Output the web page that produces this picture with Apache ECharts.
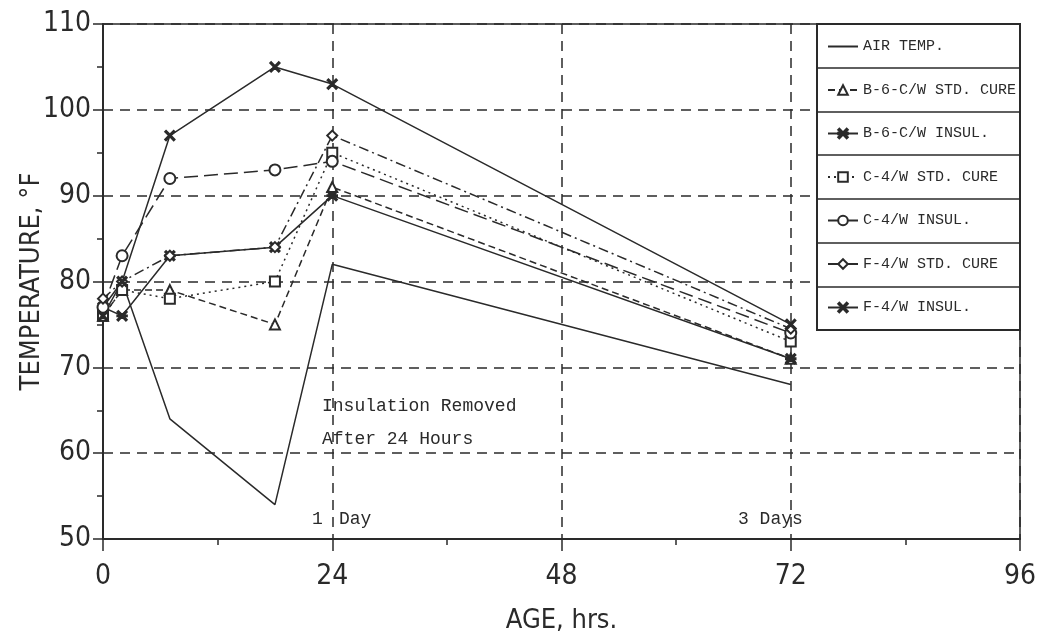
<!DOCTYPE html>
<html>
<head>
<meta charset="utf-8">
<script src="https://cdn.jsdelivr.net/npm/echarts@6/dist/echarts.min.js"></script>
<style>
html,body{margin:0;padding:0;background:#fff;}
#c{width:1038px;height:641px;}
</style>
</head>
<body>
<div id="c"></div>
<script>
// ---- data ----
const hours = [0, 2, 7, 18, 24, 72];
const airTemp = [77, 80, 64, 54, 82, 68];
const b6Std = [76, 79, 79, 75, 91, 71];
const b6Ins = [77, 76, 83, 84, 90, 71];
const c4Std = [76, 79, 78, 80, 95, 73];
const c4Ins = [77, 83, 92, 93, 94, 74];
const f4Std = [78, 80, 83, 84, 97, 74.5];
const f4Ins = [76, 80, 97, 105, 103, 75];
const seriesNames = ['AIR TEMP.', 'B-6-C/W STD. CURE', 'B-6-C/W INSUL.', 'C-4/W STD. CURE', 'C-4/W INSUL.', 'F-4/W STD. CURE', 'F-4/W INSUL.'];
const xTicks = [0, 24, 48, 72, 96];
const yTicks = [50, 60, 70, 80, 90, 100, 110];

const INK = '#2a2a2a';
const xMark = 'path://M0,1.2 L1.2,0 L5,3.8 L8.8,0 L10,1.2 L6.2,5 L10,8.8 L8.8,10 L5,6.2 L1.2,10 L0,8.8 L3.8,5 Z';
const asterisk = 'path://M0,1.2 L1.2,0 L5,3.8 L8.8,0 L10,1.2 L6.2,5 L10,8.8 L8.8,10 L5,6.2 L1.2,10 L0,8.8 L3.8,5 Z M0,4.3 L10,4.3 L10,5.7 L0,5.7 Z';

function pairs(vals){ return hours.map((h,i)=>[h, vals[i]]); }

const styles = [
  {data: airTemp, symbol: 'none', type: 'solid'},
  {data: b6Std, symbol: 'emptyTriangle', type: [7,4]},
  {data: b6Ins, symbol: asterisk, type: 'solid'},
  {data: c4Std, symbol: 'emptyRect', type: [2,4]},
  {data: c4Ins, symbol: 'emptyCircle', type: [14,6]},
  {data: f4Std, symbol: 'emptyDiamond', type: [10,4,2,4]},
  {data: f4Ins, symbol: xMark, type: 'solid'}
];

const series = styles.map((s,i)=>({
  name: seriesNames[i],
  type: 'line',
  data: pairs(s.data),
  symbol: s.symbol,
  symbolSize: s.symbol === 'emptyCircle' ? 11 : 10,
  showSymbol: s.symbol !== 'none',
  lineStyle: {color: INK, width: 1.5, type: s.type},
  itemStyle: {color: INK, borderColor: INK, borderWidth: 1.5},
  emphasis: {disabled: true},
  animation: false,
  z: 3
}));

const chart = echarts.init(document.getElementById('c'), null, {renderer: 'canvas'});
const axisFont = "'DejaVu Sans Condensed','Liberation Sans Narrow','Roboto Condensed',sans-serif";
const monoFont = "'Liberation Mono','DejaVu Sans Mono',monospace";

const legendRows = [68, 112, 155, 199, 243, 287];
const graphic = [
  {type:'rect', shape:{x:817, y:24, width:203, height:306}, style:{fill:'#fff', stroke:INK, lineWidth:2}, z:10},
  ...legendRows.map(y=>({type:'line', shape:{x1:817, y1:y, x2:1020, y2:y}, style:{stroke:INK, lineWidth:1.5}, z:11})),
  {type:'text', left:322, top:397, style:{text:'Insulation Removed', font:"18px " + monoFont, fill:INK}, z:5},
  {type:'text', left:322, top:430, style:{text:'After 24 Hours', font:"18px " + monoFont, fill:INK}, z:5},
  {type:'text', left:312, top:510, style:{text:'1', font:"18px " + monoFont, fill:INK}, z:5},
  {type:'text', left:339, top:510, style:{text:'Day', font:"18px " + monoFont, fill:INK}, z:5},
  {type:'text', left:738, top:510, style:{text:'3 Days', font:"18px " + monoFont, fill:INK}, z:5}
];

const legendData = seriesNames.map((n,i)=> i===0
  ? {name:n, itemStyle:{opacity:0}}
  : {name:n});

chart.setOption({
  backgroundColor: '#fff',
  animation: false,
  grid: {left:103, right:18, top:24, bottom:102, show:true, borderColor:INK, borderWidth:1.5, backgroundColor:'transparent', containLabel:false, outerBoundsMode:'none'},
  xAxis: {
    type:'value', min:xTicks[0], max:xTicks[xTicks.length-1], interval:24,
    name:'AGE, hrs.', nameLocation:'middle', nameGap:68,
    nameTextStyle:{fontFamily:axisFont, fontSize:27, color:INK},
    axisLine:{show:true, onZero:false, lineStyle:{color:INK, width:2}},
    axisTick:{show:true, length:12, inside:false, lineStyle:{color:INK, width:1.5}},
    minorTick:{show:true, splitNumber:2, length:6, lineStyle:{color:INK, width:1.5}},
    axisLabel:{fontFamily:axisFont, fontSize:28, color:INK, margin:24},
    splitLine:{show:true, lineStyle:{color:INK, width:1.5, type:[10,7]}}
  },
  yAxis: {
    type:'value', min:yTicks[0], max:yTicks[yTicks.length-1], interval:10,
    name:'TEMPERATURE, °F', nameLocation:'middle', nameGap:58, nameMoveOverlap:false,
    nameTextStyle:{fontFamily:axisFont, fontSize:27, color:INK},
    axisLine:{show:true, onZero:false, lineStyle:{color:INK, width:2}},
    axisTick:{show:true, length:10, lineStyle:{color:INK, width:1.5}},
    minorTick:{show:true, splitNumber:2, length:6, lineStyle:{color:INK, width:1.5}},
    axisLabel:{fontFamily:axisFont, fontSize:28, color:INK, margin:12},
    splitLine:{show:true, lineStyle:{color:INK, width:1.5, type:[10,7]}}
  },
  legend: {
    show:true, orient:'vertical', left:822, top:34,
    itemWidth:30, itemHeight:12, itemGap:28.5,
    textStyle:{fontFamily:monoFont, fontSize:15, color:INK},
    selectedMode:false,
    data: legendData,
    z:20
  },
  graphic: graphic,
  series: series
});
</script>
</body>
</html>
